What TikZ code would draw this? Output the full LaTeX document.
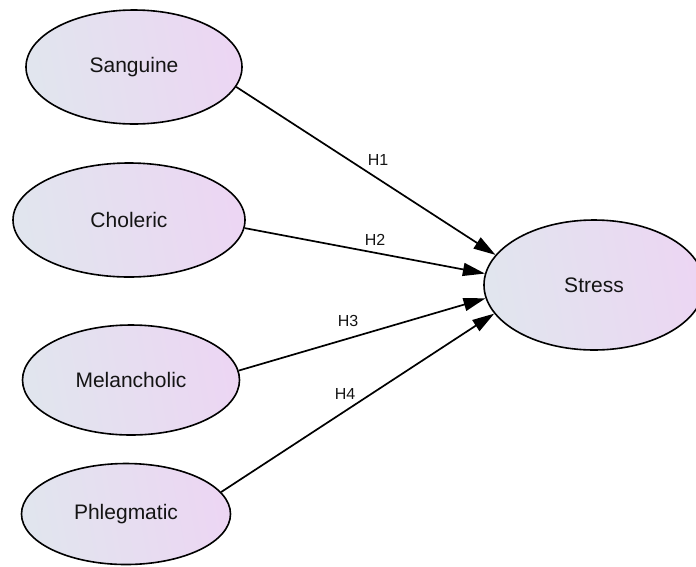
\documentclass[tikz,border=0pt]{standalone}
\usepackage{fontspec}
\setmainfont{Liberation Sans}
\usetikzlibrary{shapes.geometric,arrows.meta}
\definecolor{leftfill}{RGB}{225,229,238}
\definecolor{rightfill}{RGB}{236,214,243}
\definecolor{txt}{RGB}{20,20,20}
\tikzset{
  construct/.style={ellipse,draw=black,line width=1.6pt,inner sep=0pt,
    left color=leftfill,right color=rightfill,shading angle=100,
    text=txt,font=\fontsize{21}{24}\selectfont},
  hyp/.style={text=txt,font=\fontsize{16}{18}\selectfont,inner sep=0pt},
  path/.style={line width=1.7pt,-{Triangle[length=22pt,width=13pt]}}
}
\begin{document}
\begin{tikzpicture}[x=1pt,y=-1pt]
\useasboundingbox (0,0) rectangle (696,566);
\clip (0,0) rectangle (696,566);
\node[construct,minimum width=216pt,minimum height=114pt] (san) at (134,67) {Sanguine};
\node[construct,minimum width=232pt,minimum height=114pt] (cho) at (129,220) {Choleric};
\node[construct,minimum width=217pt,minimum height=110pt] (mel) at (131,380) {Melancholic};
\node[construct,minimum width=209pt,minimum height=101pt] (phl) at (126,514) {Phlegmatic};
\node[construct,minimum width=220pt,minimum height=130pt] (str) at (594,285) {Stress};
\draw[path] (san.-11.5) -- (str.163.5);
\draw[path] (cho.-4) -- (str.174.3);
\draw[path] (mel.5) -- (str.187.3);
\draw[path] (phl.13) -- (str.196);
\node[hyp] (h1) at (378,160) {H1};
\node[hyp] (h2) at (375,240) {H2};
\node[hyp] (h3) at (348,321) {H3};
\node[hyp] (h4) at (345,394) {H4};
\end{tikzpicture}
\end{document}
